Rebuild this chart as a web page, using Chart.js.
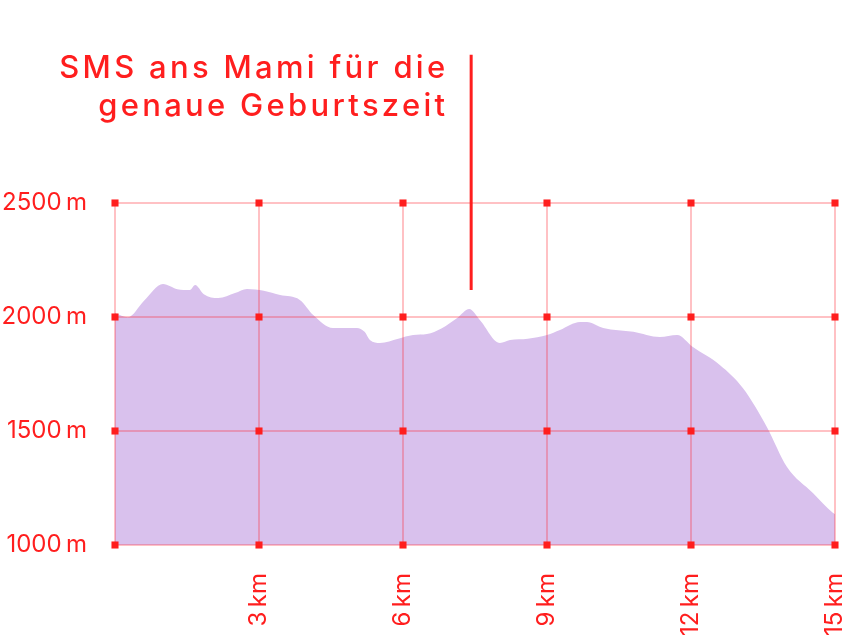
<!DOCTYPE html>
<html>
<head>
<meta charset="utf-8">
<script src="https://cdn.jsdelivr.net/npm/chart.js@4/dist/chart.umd.min.js"></script>
<style>
  html, body { margin: 0; padding: 0; background: #ffffff; }
  #wrap { width: 855px; height: 638px; position: relative; }
</style>
</head>
<body>
<div id="wrap"><canvas id="c" width="855" height="638"></canvas></div>
<script>
// Elevation profile (distance in km, altitude in m)
const distanceKm = [0, 0.27, 0.6, 1.0, 1.3, 1.56, 1.67, 1.85, 2.15, 2.5, 2.75, 3.1, 3.44, 3.85, 4.13, 4.54, 5.04, 5.2, 5.31, 5.52, 5.9, 6.21, 6.5, 6.8, 7.13, 7.38, 7.6, 8.02, 8.23, 8.6, 9.0, 9.27, 9.69, 9.83, 10.17, 10.8, 11.35, 11.71, 12.04, 12.6, 13.08, 13.58, 14.0, 14.54, 14.96, 15.0];
const altitudeM  = [2018, 1999, 2070, 2145, 2122, 2118, 2140, 2100, 2083, 2105, 2123, 2115, 2096, 2075, 2009, 1952, 1952, 1935, 1899, 1886, 1905, 1921, 1925, 1950, 1996, 2035, 1987, 1886, 1899, 1905, 1921, 1943, 1978, 1978, 1952, 1935, 1912, 1921, 1868, 1790, 1689, 1518, 1342, 1228, 1140, 1135];

// Axis ticks
const xTicksKm = [0, 3, 6, 9, 12, 15];
const xTickLabels = ["", "3\u202Fkm", "6\u202Fkm", "9\u202Fkm", "12\u202Fkm", "15\u202Fkm"];
const yTicksM = [1000, 1500, 2000, 2500];
const yTickLabels = ["1000\u202Fm", "1500\u202Fm", "2000\u202Fm", "2500\u202Fm"];

// Annotation
const noteKm = 7.42;
const noteTopM = 3150;
const noteBottomM = 2118;
const noteLines = ["SMS ans Mami für die", "genaue Geburtszeit"];

const RED = "#ff1e1e";
const GRID = "rgba(255, 30, 40, 0.55)";
const FILL = "#d9c1ed";
const FONT = "Inter, 'Liberation Sans', sans-serif";

const xMin = xTicksKm[0], xMax = xTicksKm[xTicksKm.length - 1];
const yMin = yTicksM[0], yMax = yTicksM[yTicksM.length - 1];

const profile = distanceKm.map((d, i) => ({ x: d, y: altitudeM[i] }));
const markers = [];
xTicksKm.forEach(x => yTicksM.forEach(y => markers.push({ x, y })));

// grid lines drawn above the area, as line datasets built from the tick arrays
const gridSets = [];
xTicksKm.forEach(x => gridSets.push({
  data: [{ x, y: yMin }, { x, y: yMax }],
  borderColor: GRID, borderWidth: 1, pointRadius: 0, fill: false, clip: false, order: 2
}));
yTicksM.forEach(y => gridSets.push({
  data: [{ x: xMin, y }, { x: xMax, y }],
  borderColor: GRID, borderWidth: 1, pointRadius: 0, fill: false, clip: false, order: 2
}));

const noteText = {
  id: 'noteText',
  afterDraw(chart) {
    const ctx = chart.ctx;
    const xs = chart.scales.x;
    const right = xs.getPixelForValue(noteKm) - 26;
    ctx.save();
    ctx.fillStyle = RED;
    ctx.font = "500 31px " + FONT;
    ctx.letterSpacing = "3.3px";
    ctx.textAlign = "right";
    ctx.textBaseline = "alphabetic";
    ctx.fillText(noteLines[0], right + 3.3, 78);
    ctx.fillText(noteLines[1], right + 3.3, 116);
    ctx.restore();
  }
};

new Chart(document.getElementById('c'), {
  type: 'line',
  data: {
    datasets: [
      {
        label: 'markers',
        type: 'scatter',
        data: markers,
        pointStyle: 'rect',
        pointRadius: 5,
        pointHoverRadius: 5,
        backgroundColor: RED,
        borderColor: RED,
        borderWidth: 0,
        clip: false,
        order: 0
      },
      {
        label: 'note',
        data: [{ x: noteKm, y: noteTopM }, { x: noteKm, y: noteBottomM }],
        borderColor: RED,
        borderWidth: 3,
        pointRadius: 0,
        fill: false,
        clip: false,
        order: 1
      },
      ...gridSets,
      {
        label: 'profile',
        data: profile,
        borderWidth: 0,
        borderColor: 'rgba(0,0,0,0)',
        backgroundColor: FILL,
        fill: 'start',
        pointRadius: 0,
        cubicInterpolationMode: 'monotone',
        order: 3
      }
    ]
  },
  plugins: [noteText],
  options: {
    responsive: false,
    animation: false,
    events: [],
    layout: { padding: { top: 203, right: 20, left: 0, bottom: 0 } },
    plugins: { legend: { display: false }, tooltip: { enabled: false }, title: { display: false } },
    scales: {
      x: {
        type: 'linear',
        min: xMin, max: xMax,
        afterBuildTicks(scale) { scale.ticks = xTicksKm.map(v => ({ value: v })); },
        afterFit(scale) { scale.height = 93; scale.paddingLeft = 0; scale.paddingRight = 0; },
        border: { display: false },
        grid: { display: false, drawTicks: false },
        ticks: {
          color: RED,
          font: { family: FONT, size: 24 },
          minRotation: 90, maxRotation: 90,
          padding: 28,
          callback(v) { const i = xTicksKm.indexOf(v); return i >= 0 ? xTickLabels[i] : ""; }
        }
      },
      y: {
        type: 'linear',
        min: yMin, max: yMax,
        afterBuildTicks(scale) { scale.ticks = yTicksM.map(v => ({ value: v })); },
        afterFit(scale) { scale.width = 115; scale.paddingTop = 0; scale.paddingBottom = 0; },
        border: { display: false },
        grid: { display: false, drawTicks: false },
        ticks: {
          color: RED,
          font: { family: FONT, size: 24 },
          padding: 28,
          callback(v) { const i = yTicksM.indexOf(v); return i >= 0 ? yTickLabels[i] : ""; }
        }
      }
    }
  }
});
</script>
</body>
</html>
